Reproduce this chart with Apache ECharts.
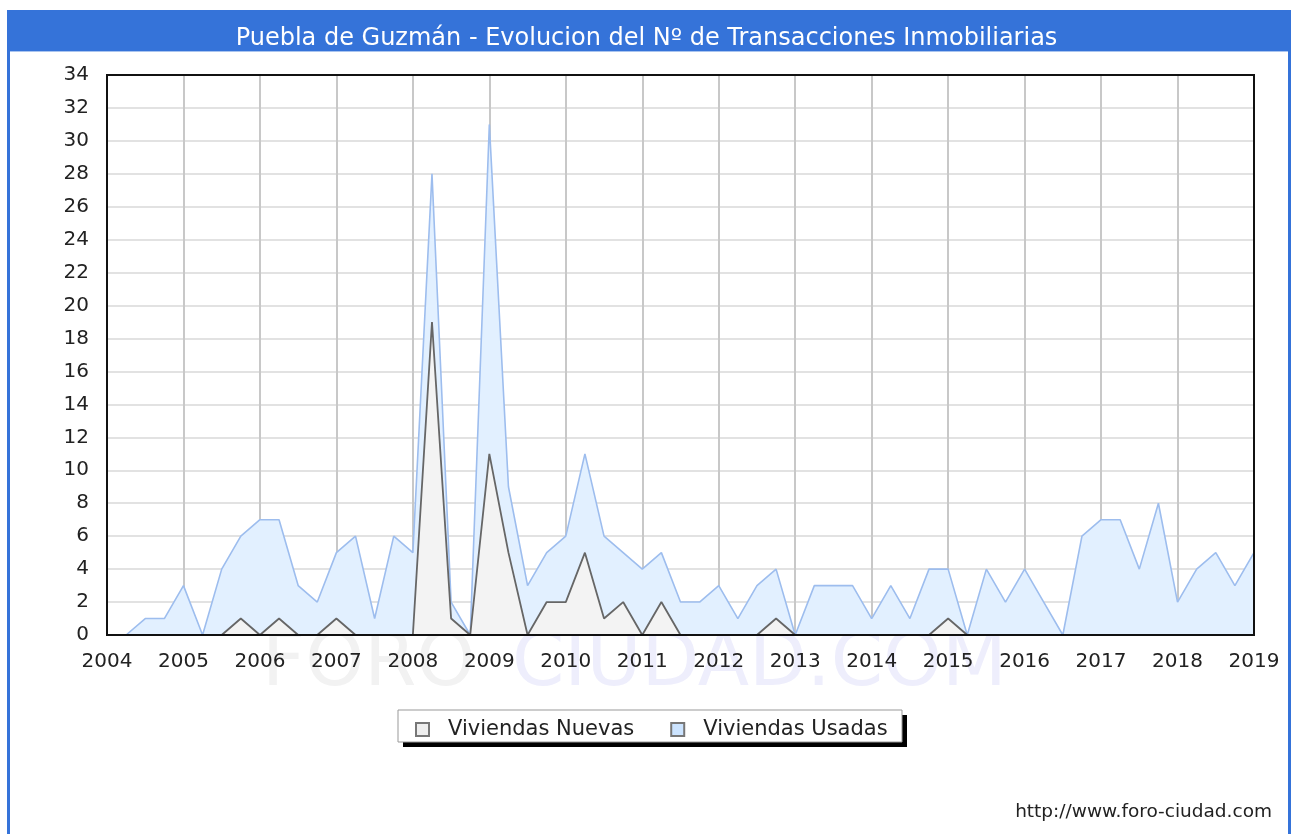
<!DOCTYPE html>
<html>
<head>
<meta charset="utf-8">
<title>Puebla de Guzmán - Transacciones</title>
<script src="https://cdn.jsdelivr.net/npm/echarts@6/dist/echarts.min.js"></script>
<style>
  html, body { margin: 0; padding: 0; background: #fff; }
  #chart { width: 1293px; height: 834px; }
</style>
</head>
<body>
<div id="chart"></div>
<script>
// datos trimestrales, desde 2004 T1 hasta 2018 T4
var anyoInicio = 2004;
var nombres = ['Viviendas Nuevas', 'Viviendas Usadas'];
var nuevas = [0, 0, 0, 0, 0, 0, 1, 0, 1, 0, 0, 1, 0, 0, 0, 0,
              19, 1, 0, 11, 5, 0, 2, 2, 5, 1, 2, 0, 2, 0, 0, 0,
              0, 0, 1, 0, 0, 0, 0, 0, 0, 0, 0, 1, 0, 0, 0, 0,
              0, 0, 0, 0, 0, 0, 0, 0, 0, 0, 0, 0];
var usadas = [0, 1, 1, 3, 0, 4, 6, 7, 7, 3, 2, 5, 6, 1, 6, 5,
              28, 2, 0, 31, 9, 3, 5, 6, 11, 6, 5, 4, 5, 2, 2, 3,
              1, 3, 4, 0, 3, 3, 3, 1, 3, 1, 4, 4, 0, 4, 2, 4,
              2, 0, 6, 7, 7, 4, 8, 2, 4, 5, 3, 5];
var anyos = [2004, 2005, 2006, 2007, 2008, 2009, 2010, 2011, 2012,
             2013, 2014, 2015, 2016, 2017, 2018, 2019];

function aPuntos(valores) {
    // cada trimestre se pinta al final del trimestre
    return valores.map(function (v, i) {
        return [anyoInicio + (i + 1) / 4, v];
    });
}

var myChart = echarts.init(document.getElementById('chart'));
var fuente = 'DejaVu Sans';

var option = {
    animation: false,
    backgroundColor: '#fff',
    textStyle: { fontFamily: fuente },
    title: {
        text: 'Puebla de Guzmán - Evolucion del Nº de Transacciones Inmobiliarias',
        left: 'center',
        top: 22,
        textStyle: { color: '#fff', fontSize: 24, fontWeight: 'normal', fontFamily: fuente }
    },
    graphic: [
        // marco azul y barra del titulo
        { type: 'rect', z: -10, shape: { x: 7, y: 10, width: 1284, height: 41 }, style: { fill: '#3573d9' } },
        { type: 'rect', z: -10, shape: { x: 7, y: 50, width: 3, height: 800 }, style: { fill: '#3573d9' } },
        { type: 'rect', z: -10, shape: { x: 1288, y: 50, width: 3, height: 800 }, style: { fill: '#3573d9' } },
        { type: 'rect', z: -10, shape: { x: 10, y: 51, width: 1278, height: 1 }, style: { fill: '#a9c4ef' } },
        // marca de agua
        { type: 'text', z: -5, left: 262, top: 628,
          style: { text: 'FORO', fill: '#f2f2f2', font: '75px "DejaVu Sans"' } },
        { type: 'text', z: -5, left: 512, top: 628,
          style: { text: 'CIUDAD.COM', fill: '#eeeefc', font: '75px "DejaVu Sans"' } },
        { type: 'text', right: 21, top: 803,
          style: { text: 'http://www.foro-ciudad.com', fill: '#222', font: '18.5px "DejaVu Sans"' } },
        // borde del area de dibujo
        { type: 'rect', z: 100, shape: { x: 107, y: 75, width: 1147, height: 560 },
          style: { fill: 'none', stroke: '#111', lineWidth: 2 } },
        // caja de la leyenda con sombra
        { type: 'rect', z: 1, shape: { x: 403, y: 715, width: 504, height: 32 }, style: { fill: '#000' } },
        { type: 'rect', z: 2, shape: { x: 398, y: 710, width: 504, height: 32 },
          style: { fill: '#fff', stroke: '#999', lineWidth: 1 } }
    ],
    legend: {
        data: nombres,
        left: 398,
        top: 710,
        z: 10,
        padding: [9, 14, 6, 17],
        itemGap: 36,
        itemWidth: 13,
        itemHeight: 13,
        icon: 'rect',
        textStyle: { fontSize: 21, color: '#222', fontFamily: fuente, padding: [0, 0, 0, 14] }
    },
    grid: {
        left: 107,
        right: 39,
        top: 75,
        bottom: 199
    },
    xAxis: {
        type: 'value',
        min: anyos[0],
        max: anyos[anyos.length - 1],
        interval: 1,
        axisLine: { show: true, lineStyle: { color: '#111', width: 2 } },
        axisTick: { show: false },
        axisLabel: { color: '#222', fontSize: 20, margin: 17, formatter: function (v) { return String(v); } },
        splitLine: { show: true, lineStyle: { color: '#c8c8c8', width: 2 } }
    },
    yAxis: {
        type: 'value',
        min: 0,
        max: 34,
        interval: 2,
        axisLine: { show: true, lineStyle: { color: '#111', width: 2 } },
        axisTick: { show: false },
        axisLabel: { color: '#222', fontSize: 20, margin: 18 },
        splitLine: { show: true, lineStyle: { color: '#e2e2e2', width: 2 } }
    },
    series: [
        {
            name: nombres[0],
            type: 'line',
            z: 4,
            data: aPuntos(nuevas),
            showSymbol: false,
            itemStyle: { color: '#eeeeee', borderColor: '#777', borderWidth: 1 },
            lineStyle: { color: '#666666', width: 1.8 },
            areaStyle: { color: '#f3f3f3', opacity: 1 }
        },
        {
            name: nombres[1],
            type: 'line',
            z: 3,
            data: aPuntos(usadas),
            showSymbol: false,
            itemStyle: { color: '#cce4ff', borderColor: '#777', borderWidth: 1 },
            lineStyle: { color: '#9dbdee', width: 1.6 },
            areaStyle: { color: '#e2f0ff', opacity: 1 }
        }
    ]
};

myChart.setOption(option);
</script>
</body>
</html>
